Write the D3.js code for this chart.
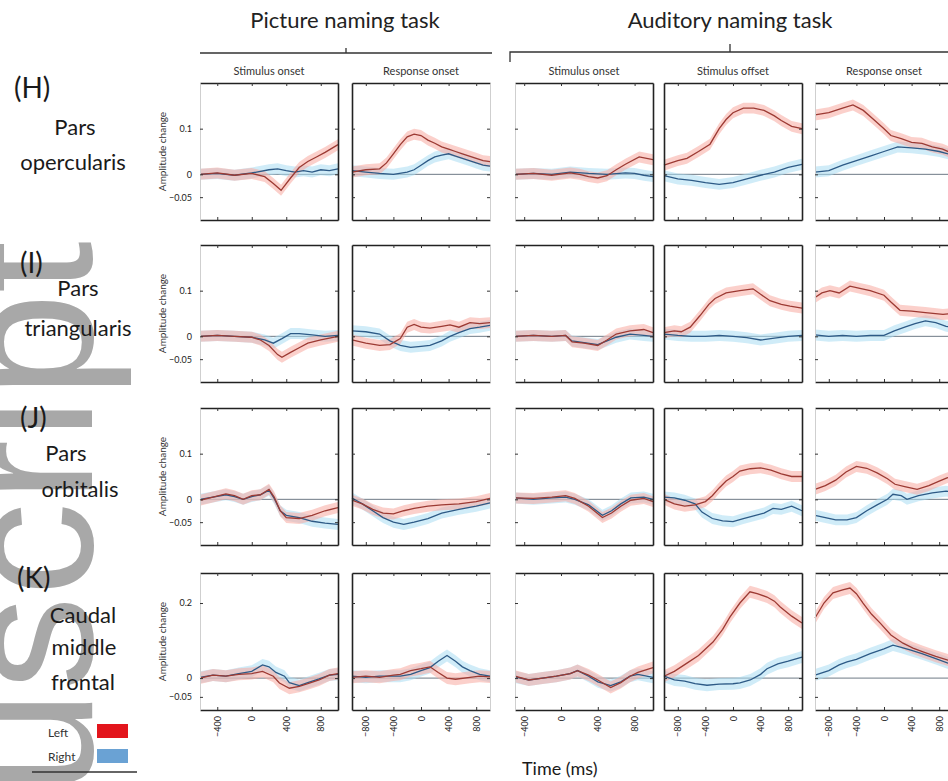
<!DOCTYPE html>
<html>
<head>
<meta charset="utf-8">
<script src="https://cdn.jsdelivr.net/npm/d3@7"></script>
<style>
  body { margin: 0; background: #fff; }
  svg { display: block; }
</style>
</head>
<body>
<script>
// [time (ms), amplitude change]
const H1_left  = [[-600,0],[-400,0.003],[-200,-0.002],[0,0.002],[150,-0.005],[250,-0.02],[340,-0.035],[450,-0.008],[550,0.015],[650,0.028],[750,0.038],[850,0.048],[1000,0.065]];
const H1_right = [[-600,0],[-400,0.002],[-200,-0.002],[0,0.003],[200,0.01],[300,0.012],[400,0.008],[500,0.005],[600,0.008],[700,0.005],[800,0.01],[900,0.008],[1000,0.012]];
const H2_left  = [[-1000,0.005],[-800,0.01],[-600,0.012],[-500,0.025],[-400,0.045],[-300,0.065],[-200,0.082],[-100,0.088],[0,0.085],[100,0.075],[200,0.068],[300,0.06],[400,0.055],[500,0.05],[600,0.045],[700,0.04],[800,0.035],[900,0.03],[1000,0.028]];
const H2_right = [[-1000,0.008],[-800,0.005],[-600,0.002],[-400,0],[-200,0.005],[-100,0.01],[0,0.02],[100,0.03],[200,0.038],[300,0.042],[400,0.045],[500,0.04],[600,0.035],[700,0.03],[800,0.025],[900,0.02],[1000,0.018]];
const H3_left  = [[-500,0],[-300,0.002],[-100,-0.002],[100,0.003],[200,0],[300,-0.005],[400,-0.008],[500,-0.003],[600,0.01],[700,0.022],[850,0.038],[1000,0.032]];
const H3_right = [[-500,0],[-300,0.002],[-100,0],[100,0.005],[300,0.002],[500,0],[700,0.003],[800,0.002],[900,-0.002],[1000,-0.005]];
const H4_left  = [[-1000,0.02],[-800,0.03],[-667,0.035],[-500,0.05],[-333,0.066],[-200,0.1],[-100,0.12],[0,0.135],[150,0.145],[300,0.145],[450,0.14],[600,0.128],[700,0.118],[850,0.105],[1000,0.1]];
const H4_right = [[-1000,-0.003],[-800,-0.01],[-600,-0.013],[-400,-0.018],[-200,-0.022],[0,-0.018],[200,-0.01],[400,-0.002],[600,0.005],[800,0.015],[1000,0.022]];
const H5_left  = [[-1000,0.13],[-800,0.135],[-600,0.145],[-450,0.152],[-300,0.14],[-150,0.12],[0,0.1],[100,0.085],[250,0.078],[400,0.07],[550,0.068],[700,0.06],[850,0.055],[1000,0.045]];
const H5_right = [[-1000,0.005],[-800,0.008],[-600,0.02],[-400,0.03],[-200,0.04],[0,0.05],[200,0.06],[400,0.058],[600,0.055],[800,0.05],[1000,0.042]];

const I1_left  = [[-600,0],[-400,0.002],[-200,0],[0,-0.002],[100,-0.008],[200,-0.02],[300,-0.04],[350,-0.046],[450,-0.035],[550,-0.025],[650,-0.015],[800,-0.008],[1000,0]];
const I1_right = [[-600,0],[-400,0.002],[-200,0],[0,-0.002],[150,-0.008],[250,-0.015],[350,-0.005],[450,0.006],[550,0.006],[700,0.003],[850,0],[1000,0.002]];
const I2_left  = [[-1000,-0.008],[-800,-0.015],[-600,-0.02],[-450,-0.018],[-300,-0.005],[-200,0.02],[-100,0.026],[0,0.02],[130,0.018],[300,0.022],[420,0.025],[550,0.02],[710,0.03],[850,0.028],[1000,0.03]];
const I2_right = [[-1000,0.012],[-800,0.01],[-600,0.005],[-450,-0.01],[-300,-0.02],[-150,-0.024],[0,-0.022],[130,-0.02],[300,-0.01],[420,0],[550,0.008],[710,0.017],[850,0.02],[1000,0.024]];
const I3_left  = [[-500,0],[-300,0.002],[-100,0],[50,0.002],[120,-0.012],[250,-0.015],[400,-0.02],[500,-0.008],[600,0.005],[750,0.012],[900,0.015],[1000,0.008]];
const I3_right = [[-500,0],[-300,0.002],[-100,0],[50,0.002],[120,-0.01],[250,-0.014],[400,-0.018],[500,-0.01],[600,-0.002],[750,0.005],[900,0.002],[1000,0]];
const I4_left  = [[-1000,0.008],[-850,0.012],[-750,0.01],[-620,0.02],[-480,0.045],[-350,0.07],[-260,0.083],[-100,0.095],[100,0.1],[290,0.104],[400,0.092],[536,0.078],[700,0.07],[826,0.066],[1000,0.062]];
const I4_right = [[-1000,0.005],[-800,0.002],[-600,0],[-400,0],[-200,0.002],[0,0],[200,-0.003],[400,-0.008],[600,-0.004],[800,0],[1000,0.002]];
const I5_left  = [[-1000,0.085],[-900,0.095],[-783,0.1],[-650,0.095],[-493,0.11],[-350,0.105],[-200,0.1],[0,0.09],[100,0.075],[232,0.057],[400,0.055],[600,0.052],[855,0.048],[1000,0.05]];
const I5_right = [[-1000,0.003],[-800,0],[-600,0.002],[-400,0],[-200,0.002],[0,0.002],[150,0.012],[300,0.02],[450,0.028],[600,0.034],[750,0.03],[900,0.022],[1000,0.02]];

const J1_left  = [[-600,-0.002],[-450,0.005],[-300,0.012],[-200,0.008],[-100,0],[0,0.008],[100,0.01],[200,0.022],[260,0.005],[330,-0.025],[400,-0.04],[550,-0.042],[700,-0.035],[850,-0.025],[1000,-0.018]];
const J1_right = [[-600,0],[-450,0.005],[-300,0.01],[-200,0.006],[-100,0],[0,0.006],[100,0.01],[200,0.02],[260,0.002],[330,-0.025],[400,-0.035],[550,-0.04],[700,-0.048],[850,-0.052],[1000,-0.055]];
const J2_left  = [[-1000,-0.002],[-850,-0.01],[-700,-0.022],[-550,-0.03],[-400,-0.032],[-250,-0.025],[-100,-0.02],[100,-0.015],[300,-0.012],[550,-0.01],[800,-0.005],[1000,0.002]];
const J2_right = [[-1000,0.003],[-850,-0.01],[-700,-0.025],[-550,-0.04],[-400,-0.05],[-250,-0.055],[-100,-0.05],[100,-0.042],[300,-0.03],[550,-0.022],[800,-0.015],[1000,-0.008]];
const J3_left  = [[-500,0.003],[-300,0.002],[-100,0.005],[50,0.008],[150,0.002],[300,-0.015],[450,-0.04],[550,-0.03],[650,-0.015],[759,-0.002],[900,0.002],[1000,-0.005]];
const J3_right = [[-500,0.003],[-300,0],[-100,0.003],[50,0.005],[150,0],[300,-0.012],[450,-0.035],[550,-0.025],[650,-0.01],[759,0.003],[900,0.005],[1000,0]];
const J4_left  = [[-1000,0],[-850,-0.01],[-700,-0.015],[-550,-0.012],[-400,-0.005],[-300,0.008],[-200,0.025],[-100,0.04],[0,0.05],[100,0.062],[250,0.067],[400,0.069],[550,0.064],[700,0.056],[850,0.05],[1000,0.05]];
const J4_right = [[-1000,0.005],[-850,0.003],[-700,-0.002],[-550,-0.01],[-450,-0.028],[-300,-0.042],[-150,-0.047],[0,-0.049],[150,-0.042],[300,-0.036],[450,-0.03],[580,-0.02],[700,-0.022],[850,-0.015],[1000,-0.025]];
const J5_left  = [[-1000,0.022],[-850,0.03],[-700,0.042],[-550,0.06],[-400,0.072],[-250,0.068],[-100,0.058],[50,0.045],[160,0.033],[300,0.028],[480,0.022],[650,0.03],[800,0.04],[913,0.047],[1000,0.05]];
const J5_right = [[-1000,-0.035],[-850,-0.04],[-700,-0.045],[-536,-0.045],[-400,-0.04],[-250,-0.025],[-100,-0.012],[50,0],[130,0.011],[250,0.008],[333,0],[500,0.008],[700,0.014],[900,0.018],[1000,0.016]];

const K1_left  = [[-600,0],[-450,0.008],[-300,0.005],[-150,0.01],[0,0.012],[125,0.018],[250,0.005],[321,-0.013],[436,-0.027],[551,-0.022],[650,-0.015],[781,-0.005],[900,0.008],[1000,0.012]];
const K1_right = [[-600,0.002],[-450,0.008],[-300,0.005],[-150,0.012],[0,0.018],[125,0.035],[200,0.03],[280,0.015],[380,0.005],[436,-0.012],[551,-0.02],[650,-0.012],[781,-0.002],[900,0.008],[1000,0.01]];
const K2_left  = [[-1000,0.002],[-800,0.005],[-600,0.002],[-400,0.008],[-300,0.01],[-150,0.02],[0,0.025],[130,0.03],[250,0.015],[377,0],[500,-0.003],[710,0.002],[850,0.005],[1000,0.003]];
const K2_right = [[-1000,0.005],[-800,0.002],[-600,0.005],[-400,0.005],[-300,0.005],[-150,0.01],[0,0.02],[130,0.028],[250,0.045],[377,0.06],[500,0.045],[600,0.03],[710,0.02],[850,0.01],[1000,0.005]];
const K3_left  = [[-500,0.005],[-350,-0.005],[-200,0],[-50,0.005],[100,0.012],[180,0.02],[300,0.008],[400,-0.005],[540,-0.025],[650,-0.012],[750,0.005],[836,0.015],[1000,0.028]];
const K3_right = [[-500,0.003],[-350,-0.005],[-200,0],[-50,0.005],[100,0.012],[180,0.02],[300,0.005],[400,-0.01],[540,-0.02],[650,-0.01],[750,0.005],[836,0.01],[1000,0.002]];
const K4_left  = [[-1000,0.005],[-850,0.018],[-667,0.04],[-500,0.06],[-290,0.096],[-150,0.13],[-43,0.163],[100,0.2],[246,0.23],[350,0.225],[493,0.216],[600,0.205],[681,0.19],[850,0.165],[1000,0.147]];
const K4_right = [[-1000,0.005],[-850,-0.005],[-700,-0.008],[-550,-0.015],[-377,-0.019],[-200,-0.016],[0,-0.015],[101,-0.013],[250,-0.005],[400,0.01],[493,0.025],[650,0.038],[800,0.045],[1000,0.056]];
const K5_left  = [[-1000,0.16],[-870,0.2],[-739,0.227],[-600,0.235],[-493,0.24],[-400,0.225],[-304,0.2],[-180,0.17],[-58,0.147],[100,0.115],[275,0.093],[420,0.08],[565,0.07],[750,0.058],[928,0.048],[1000,0.045]];
const K5_right = [[-1000,0.008],[-800,0.02],[-650,0.035],[-536,0.043],[-400,0.05],[-200,0.065],[0,0.078],[130,0.088],[250,0.082],[377,0.075],[550,0.065],[750,0.052],[928,0.04],[1000,0.038]];

const tasks = ["Picture naming task", "Auditory naming task"];
const columns = ["Stimulus onset", "Response onset", "Stimulus onset", "Stimulus offset", "Response onset"];
const xDomains = [[-600, 1000], [-1000, 1000], [-500, 1000], [-1000, 1000], [-1000, 1000]];
const xTicks = [[-400, 0, 400, 800], [-800, -400, 0, 400, 800], [-400, 0, 400, 800], [-800, -400, 0, 400, 800], [-800, -400, 0, 400, 800]];
const rowLabels = [["(H)", "Pars", "opercularis"], ["(I)", "Pars", "triangularis"], ["(J)", "Pars", "orbitalis"], ["(K)", "Caudal", "middle", "frontal"]];
const yDomains = [[-0.1, 0.2], [-0.1, 0.2], [-0.1, 0.2], [-0.085, 0.28]];
const yTicks = [[-0.05, 0, 0.1], [-0.05, 0, 0.1], [-0.05, 0, 0.1], [-0.05, 0, 0.2]];
const bandHalf = [0.012, 0.012, 0.012, 0.016];
const legendLabels = ["Left", "Right"];

const leftSeries = [
    [H1_left, H2_left, H3_left, H4_left, H5_left],
    [I1_left, I2_left, I3_left, I4_left, I5_left],
    [J1_left, J2_left, J3_left, J4_left, J5_left],
    [K1_left, K2_left, K3_left, K4_left, K5_left]];
const rightSeries = [
    [H1_right, H2_right, H3_right, H4_right, H5_right],
    [I1_right, I2_right, I3_right, I4_right, I5_right],
    [J1_right, J2_right, J3_right, J4_right, J5_right],
    [K1_right, K2_right, K3_right, K4_right, K5_right]];

window.onload = () => {
    const W = 948, H = 781;
    const colX = [200, 352, 515, 664, 815],
          rowY = [83, 245, 408, 573],
          pw = 138, ph = 137;
    const font = "Lato, 'Open Sans', sans-serif";

    var svg = d3.select("body").append("svg")
        .attr("width", W)
        .attr("height", H)
        .style("font-family", font);

    // grey watermark along the left edge
    svg.append("text")
        .attr("transform", "translate(92,241) rotate(-90)")
        .attr("text-anchor", "end")
        .style("font-family", "'Liberation Sans', Arial, sans-serif")
        .style("font-size", "188px")
        .attr("fill", "#a8a8a8")
        .text("Manuscript");

    // task headers
    const taskCenter = [345, 730];
    tasks.forEach((t, i) => {
        svg.append("text")
            .attr("x", taskCenter[i])
            .attr("y", 28)
            .attr("text-anchor", "middle")
            .style("font-size", "22px")
            .attr("fill", "#222")
            .text(t);
    });
    svg.append("path")
        .attr("d", "M200,53H346V48M346,53H492")
        .attr("fill", "none").attr("stroke", "#333").attr("stroke-width", 1.3);
    svg.append("path")
        .attr("d", "M510,62V52H948M730,52V44")
        .attr("fill", "none").attr("stroke", "#333").attr("stroke-width", 1.3);

    columns.forEach((c, i) => {
        svg.append("text")
            .attr("x", colX[i] + pw / 2)
            .attr("y", 75)
            .attr("text-anchor", "middle")
            .style("font-size", "11px")
            .attr("fill", "#333")
            .text(c);
    });

    // row labels
    const labelPos = [
        [[14, 98, "start"], [75, 135, "middle"], [73, 170, "middle"]],
        [[20, 273, "start"], [78, 296, "middle"], [78, 336, "middle"]],
        [[20, 428, "start"], [66, 461, "middle"], [80, 497, "middle"]],
        [[17, 588, "start"], [83, 623, "middle"], [84, 655, "middle"], [83, 690, "middle"]]];
    rowLabels.forEach((lines, r) => {
        lines.forEach((s, k) => {
            const p = labelPos[r][k];
            svg.append("text")
                .attr("x", p[0])
                .attr("y", p[1])
                .attr("text-anchor", p[2])
                .style("font-size", k === 0 ? "28px" : "22px")
                .attr("fill", "#1a1a1a")
                .text(s);
        });
    });

    const leftDark = [false, true, false, true, false],
          rightDark = [true, false, true, true, false];

    for (let r = 0; r < 4; r++) {
        for (let c = 0; c < 5; c++) {
            const g = svg.append("g").attr("transform", "translate(" + colX[c] + "," + rowY[r] + ")");
            var x = d3.scaleLinear().domain(xDomains[c]).range([0, pw]);
            var y = d3.scaleLinear().domain(yDomains[r]).range([ph, 0]);
            const b = bandHalf[r];

            const area = d3.area()
                .x(d => x(d[0]))
                .y0(d => y(d[1] - b))
                .y1(d => y(d[1] + b));
            const line = d3.line()
                .x(d => x(d[0]))
                .y(d => y(d[1]));

            g.append("line")
                .attr("x1", 0).attr("x2", pw)
                .attr("y1", y(0)).attr("y2", y(0))
                .attr("stroke", "#5d6b78")
                .attr("stroke-width", 0.9);

            g.append("path").datum(rightSeries[r][c])
                .attr("d", area).attr("fill", "#a9dcf3").attr("opacity", 0.55);
            g.append("path").datum(leftSeries[r][c])
                .attr("d", area).attr("fill", "#f7aaa0").attr("opacity", 0.55);
            g.append("path").datum(rightSeries[r][c])
                .attr("d", line).attr("fill", "none")
                .attr("stroke", "#2d5a86").attr("stroke-width", 1.3);
            g.append("path").datum(leftSeries[r][c])
                .attr("d", line).attr("fill", "none")
                .attr("stroke", "#9c3a33").attr("stroke-width", 1.3);

            // frame: top and bottom axes dark, sides vary
            const bottom = g.append("g")
                .attr("transform", "translate(0," + ph + ")")
                .call(d3.axisBottom(x).tickValues(xTicks[c]).tickSizeInner(-3).tickSizeOuter(0)
                    .tickFormat(r === 3 ? d3.format("d") : ""));
            bottom.select(".domain").attr("stroke", "#222").attr("stroke-width", 1.6);
            bottom.selectAll(".tick line").attr("stroke", "#333");
            bottom.selectAll("text")
                .attr("transform", "rotate(-90)")
                .attr("x", -6).attr("y", 0).attr("dy", "0.35em")
                .style("text-anchor", "end")
                .style("font-size", "9px")
                .style("font-family", font)
                .attr("fill", "#222");

            const top = g.append("g")
                .call(d3.axisTop(x).tickValues(xTicks[c]).tickSizeInner(-3).tickSizeOuter(0).tickFormat(""));
            top.select(".domain").attr("stroke", "#222").attr("stroke-width", 1.6);
            top.selectAll(".tick line").attr("stroke", "#333");

            const left = g.append("g")
                .call(d3.axisLeft(y).tickValues(yTicks[r]).tickSizeInner(-3).tickSizeOuter(0)
                    .tickFormat(c === 0 ? (d => d === 0 ? "0" : d3.format("")(d)) : ""));
            left.select(".domain")
                .attr("stroke", leftDark[c] ? "#222" : "#cfcfcf")
                .attr("stroke-width", leftDark[c] ? 1.6 : 1);
            left.selectAll(".tick line").attr("stroke", "#333");
            left.selectAll("text")
                .attr("x", -8)
                .style("font-size", "9px")
                .style("font-family", font)
                .attr("fill", "#222");

            const right = g.append("g")
                .attr("transform", "translate(" + pw + ",0)")
                .call(d3.axisRight(y).tickValues(yTicks[r]).tickSizeInner(-3).tickSizeOuter(0).tickFormat(""));
            right.select(".domain")
                .attr("stroke", rightDark[c] ? "#222" : "#cfcfcf")
                .attr("stroke-width", rightDark[c] ? 1.6 : 1);
            right.selectAll(".tick line").attr("stroke", "#333");

            if (c === 0) {
                g.append("text")
                    .attr("transform", "rotate(-90)")
                    .attr("x", -ph / 2)
                    .attr("y", -34)
                    .attr("text-anchor", "middle")
                    .style("font-size", "10px")
                    .attr("fill", "#333")
                    .text("Amplitude change");
            }
        }
    }

    svg.append("text")
        .attr("x", 522)
        .attr("y", 775)
        .style("font-size", "18px")
        .attr("fill", "#1a1a1a")
        .text("Time (ms)");

    // legend
    const legendColors = ["#e3151c", "#6aa2d4"];
    legendLabels.forEach((l, i) => {
        svg.append("text")
            .attr("x", 48)
            .attr("y", 737 + i * 24)
            .style("font-size", "12px")
            .attr("fill", "#333")
            .text(l);
        svg.append("rect")
            .attr("x", 97)
            .attr("y", 724 + i * 25)
            .attr("width", 31)
            .attr("height", 14)
            .attr("fill", legendColors[i]);
    });
    svg.append("line")
        .attr("x1", 32).attr("x2", 137)
        .attr("y1", 772).attr("y2", 772)
        .attr("stroke", "#333").attr("stroke-width", 1.3);
};
</script>
</body>
</html>
